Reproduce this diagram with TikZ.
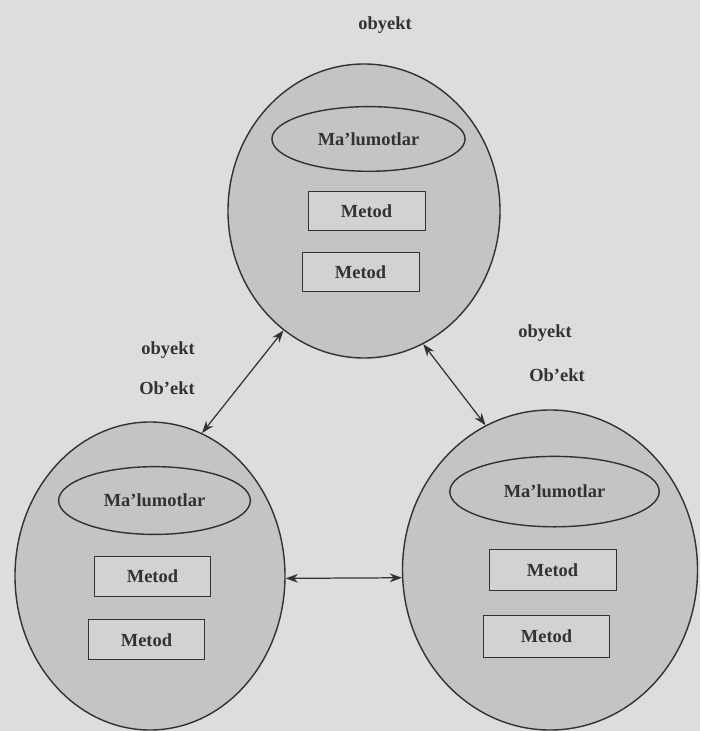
\documentclass[tikz,border=0pt]{standalone}
\usepackage{fontspec}
\setmainfont{Liberation Serif}
\usetikzlibrary{shapes.geometric,arrows.meta}
\definecolor{paper}{RGB}{221,221,219}
\definecolor{blobfill}{RGB}{196,196,195}
\definecolor{boxfill}{RGB}{210,210,209}
\definecolor{ink}{RGB}{50,50,50}
\tikzset{
    blob/.style={ellipse,draw=ink,fill=blobfill,line width=0.8pt,inner sep=0pt},
    metod/.style={rectangle,draw=ink,fill=boxfill,line width=0.5pt,inner sep=0pt},
    lbl/.style={text=ink,font=\bfseries\fontsize{10.5}{12}\selectfont},
    link/.style={{Stealth[length=7pt,width=5pt]}-{Stealth[length=7pt,width=5pt]},draw=ink,line width=0.7pt},
}
% one object: name, centre, width, height
\newcommand\ObyektBlob[4]{%
    \node[blob,minimum width=#3cm,minimum height=#4cm] (#1) at #2 {};
    \node[blob,lbl,minimum width=0.71*#3cm,minimum height=0.22*#4cm,
        xshift=0.09cm,yshift=0.245*#4cm] (#1-data) at (#1) {Ma'lumotlar};
    \node[metod,lbl,minimum width=0.43*#3cm,minimum height=0.13*#4cm,
        xshift=0.05cm] (#1-m1) at (#1) {Metod};
    \node[metod,lbl,minimum width=0.43*#3cm,minimum height=0.13*#4cm,
        xshift=-0.07cm,yshift=-0.207*#4cm] (#1-m2) at (#1) {Metod};
}

\begin{document}
\begin{tikzpicture}
    \fill[paper] (0,0) rectangle (14,-14.62);
    \useasboundingbox (0,0) rectangle (14,-14.62);

    \ObyektBlob{top}{(7.28,-4.22)}{5.44}{5.88}
    \ObyektBlob{left}{(3.0,-11.52)}{5.4}{6.16}
    \ObyektBlob{right}{(11.0,-11.4)}{5.9}{6.4}

    % labels
    \node[lbl] (top-name) at (7.7,-0.5) {obyekt};
    \node[lbl] (left-name) at (3.36,-7.0) {obyekt};
    \node[lbl] (left-alt) at (3.34,-7.76) {Ob'ekt};
    \node[lbl] (right-name) at (10.9,-6.66) {obyekt};
    \node[lbl] (right-alt) at (11.14,-7.5) {Ob'ekt};

    % links
    \draw[link] (left.70) -- (top.236);
    \draw[link] (top.294) -- (right.114);
    \draw[link] (left.359) -- (right.183);
\end{tikzpicture}
\end{document}
